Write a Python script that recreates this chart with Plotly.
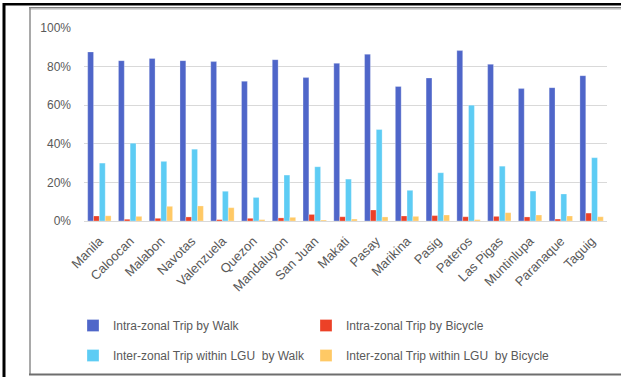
import plotly.graph_objects as go

cities = ["Manila", "Caloocan", "Malabon", "Navotas", "Valenzuela", "Quezon",
          "Mandaluyon", "San Juan", "Makati", "Pasay", "Marikina", "Pasig",
          "Pateros", "Las Pigas", "Muntinlupa", "Paranaque", "Taguig"]

intra_walk = [0.876, 0.831, 0.842, 0.831, 0.826, 0.724, 0.836, 0.743, 0.817,
              0.864, 0.697, 0.741, 0.883, 0.812, 0.686, 0.691, 0.753]
intra_bicycle = [0.026, 0.009, 0.014, 0.021, 0.007, 0.014, 0.016, 0.034, 0.022,
                 0.057, 0.026, 0.028, 0.022, 0.024, 0.021, 0.010, 0.041]
inter_walk = [0.300, 0.403, 0.309, 0.372, 0.154, 0.122, 0.238, 0.281, 0.217,
              0.474, 0.159, 0.250, 0.600, 0.284, 0.155, 0.140, 0.328]
inter_bicycle = [0.027, 0.024, 0.076, 0.078, 0.069, 0.007, 0.019, 0.005, 0.010,
                 0.021, 0.024, 0.031, 0.007, 0.043, 0.031, 0.026, 0.022]

series_names = ["Intra-zonal Trip by Walk", "Intra-zonal Trip by Bicycle",
                "Inter-zonal Trip within LGU  by Walk", "Inter-zonal Trip within LGU  by Bicycle"]
series_values = [intra_walk, intra_bicycle, inter_walk, inter_bicycle]
colors = ["#4F66C9", "#EC4127", "#5DCCF4", "#FFC965"]
legend_ids = ["legend", "legend2", "legend", "legend2"]

W, H = 621, 377
L, R, T, B = 84, 14, 28, 156
PW, PH = W - L - R, H - T - B

fig = go.Figure()
for name, vals, col, lg, grp in zip(series_names, series_values, colors, legend_ids, "abcd"):
    fig.add_trace(go.Bar(
        x=cities, y=vals, name=name, legend=lg, legendgroup=grp,
        marker=dict(color=col, line=dict(color="rgba(255,255,255,0.35)", width=0.8)),
    ))


def px(xp):
    return (xp - L) / PW


def py(yp):
    return (H - B - yp) / PH


line_shapes = [
    # outer black frame
    dict(x0=px(4), x1=px(4), y0=py(3), y1=py(377), color="#000000", width=3),
    dict(x0=px(3), x1=px(621), y0=py(4.3), y1=py(4.3), color="#000000", width=2.5),
    # inner gray frame
    dict(x0=px(29), x1=px(621), y0=py(7.8), y1=py(7.8), color="#7F7F7F", width=1.5),
    dict(x0=px(29), x1=px(621), y0=py(9.2), y1=py(9.2), color="#C8C8C8", width=1),
    dict(x0=px(30), x1=px(30), y0=py(7.5), y1=py(375), color="#8C8C8C", width=1.5),
    dict(x0=px(29), x1=px(621), y0=py(374.5), y1=py(374.5), color="#6E6E6E", width=2),
]
shapes = []
for s in line_shapes:
    shapes.append(dict(type="line", xref="paper", yref="paper",
                       x0=s["x0"], x1=s["x1"], y0=s["y0"], y1=s["y1"],
                       line=dict(color=s["color"], width=s["width"]), layer="above"))

font = dict(family="Liberation Sans, Arial, sans-serif", size=12, color="#595959")
xfont = dict(family="Liberation Sans, Arial, sans-serif", size=13, color="#595959")

fig.update_layout(
    width=W, height=H,
    margin=dict(l=L, r=R, t=T, b=B, autoexpand=False),
    paper_bgcolor="white", plot_bgcolor="white",
    barmode="group", bargap=0.24, bargroupgap=0,
    font=font,
    shapes=shapes,
    legend=dict(xref="container", yref="container", x=73 / W, y=1 - 311 / H,
                xanchor="left", yanchor="top", orientation="v",
                traceorder="grouped", tracegroupgap=11, font=font,
                bgcolor="rgba(0,0,0,0)"),
    legend2=dict(xref="container", yref="container", x=306 / W, y=1 - 311 / H,
                 xanchor="left", yanchor="top", orientation="v",
                 traceorder="grouped", tracegroupgap=11, font=font,
                 bgcolor="rgba(0,0,0,0)"),
    xaxis=dict(tickangle=-45, tickfont=xfont, showgrid=False, showline=False,
               ticks="", zeroline=False, ticklabelstandoff=9),
    yaxis=dict(range=[0, 1.0001], dtick=0.2, tickformat=".0%", tickfont=font,
               showgrid=True, gridcolor="#D9D9D9", gridwidth=1,
               zeroline=True, zerolinecolor="#D9D9D9", zerolinewidth=1,
               showline=False, ticks="", ticklabelstandoff=12),
)

fig.write_html("out.html")
